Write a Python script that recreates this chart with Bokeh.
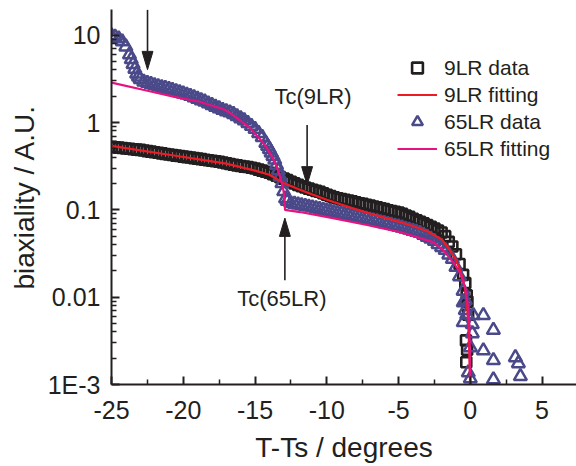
from bokeh.plotting import figure
from bokeh.models import (Range1d, FixedTicker, CustomJSTickFormatter, Legend,
                          LegendItem, Label)
from bokeh.embed import file_html
from bokeh.resources import INLINE

FONT = "Liberation Sans"
INK = "#231f20"
C9 = INK
C65 = "#4a4989"
RED = "#ed1c24"
PINK = "#e5127f"

# ---------------- data ----------------
lr9_x = [-25.0, -24.75, -24.5, -24.25, -24.0, -23.75, -23.5, -23.25, -23.0,
         -22.75, -22.5, -22.25, -22.0, -21.75, -21.5, -21.25, -21.0,
         -20.75, -20.5, -20.25, -20.0, -19.75, -19.5, -19.25, -19.0,
         -18.75, -18.5, -18.25, -18.0, -17.75, -17.5, -17.25, -17.0,
         -16.75, -16.5, -16.25, -16.0, -15.75, -15.5, -15.25, -15.0,
         -14.75, -14.5, -14.25, -14.0, -13.75, -13.5, -13.25, -13.0,
         -12.75, -12.5, -12.25, -12.0, -11.75, -11.5, -11.25, -11.0,
         -10.75, -10.5, -10.25, -10.0, -9.75, -9.5, -9.25, -9.0,
         -8.75, -8.5, -8.25, -8.0, -7.75, -7.5, -7.25, -7.0,
         -6.75, -6.5, -6.25, -6.0, -5.75, -5.5, -5.25, -5.0,
         -4.75, -4.5, -4.25, -4.0, -3.75, -3.5, -3.25, -3.0,
         -2.75, -2.5, -2.25, -2.0, -1.75, -1.5, -1.25, -1.0,
         -0.75, -0.5, -0.35, -0.25, -0.2, -0.15, -0.3, -0.22, -0.28]
lr9_y = [0.526, 0.521, 0.516, 0.511, 0.505, 0.500, 0.495, 0.490, 0.486,
         0.478, 0.471, 0.464, 0.457, 0.450, 0.444, 0.437, 0.431,
         0.424, 0.418, 0.413, 0.407, 0.402, 0.397, 0.391, 0.386,
         0.381, 0.375, 0.370, 0.365, 0.360, 0.355, 0.348, 0.342,
         0.335, 0.329, 0.323, 0.318, 0.313, 0.309, 0.304, 0.297,
         0.289, 0.281, 0.273, 0.266, 0.256, 0.246, 0.237, 0.228,
         0.219, 0.210, 0.201, 0.193, 0.186, 0.180, 0.175, 0.170,
         0.165, 0.161, 0.155, 0.149, 0.144, 0.139, 0.136, 0.133,
         0.130, 0.128, 0.125, 0.122, 0.119, 0.117, 0.114, 0.112,
         0.109, 0.107, 0.104, 0.102, 0.099, 0.097, 0.095, 0.093,
         0.090, 0.086, 0.083, 0.079, 0.076, 0.073, 0.070, 0.067,
         0.064, 0.061, 0.058, 0.055, 0.050, 0.043, 0.038, 0.031,
         0.024, 0.018, 0.0145, 0.0105, 0.0089, 0.0063, 0.0032, 0.0025, 0.0018]

lr65_x = [-25.0, -24.75, -24.5, -24.25, -24.0, -23.75, -23.625, -23.5, -23.375,
          -23.25, -23.125, -23.0, -22.75, -22.5, -22.25, -22.0, -21.75,
          -21.5, -21.25, -21.0, -20.75, -20.5, -20.25, -20.0, -19.75,
          -19.5, -19.25, -19.0, -18.75, -18.5, -18.25, -18.0, -17.75,
          -17.5, -17.25, -17.0, -16.75, -16.5, -16.25, -16.0, -15.75,
          -15.5, -15.25, -15.0, -14.75, -14.5, -14.25, -14.125, -14.0,
          -13.875, -13.75, -13.625, -13.5, -13.375, -13.25, -13.125, -13.0,
          -12.875, -12.75, -12.5, -12.25, -12.0, -11.75, -11.5, -11.25,
          -11.0, -10.75, -10.5, -10.25, -10.0, -9.75, -9.5, -9.25,
          -9.0, -8.75, -8.5, -8.25, -8.0, -7.75, -7.5, -7.25,
          -7.0, -6.75, -6.5, -6.25, -6.0, -5.75, -5.5, -5.25,
          -5.0, -4.75, -4.5, -4.25, -4.0, -3.75, -3.5, -3.25,
          -3.0, -2.75, -2.5, -2.25, -2.0, -1.75, -1.5, -1.25,
          -1.0, -0.75, -0.5, -0.35, -0.25, -0.49, -0.35, -0.49,
          0.21, 0.14, 0.14, 0.0, -0.14, 0.0, 0.91, 1.61, 0.91, 1.61, 1.61,
          3.14, 3.35, 3.49]
lr65_y = [9.90, 9.59, 9.15, 8.46, 7.40, 6.00, 5.29, 4.66, 4.11,
          3.62, 3.35, 3.14, 2.93, 2.83, 2.75, 2.67, 2.60,
          2.53, 2.47, 2.41, 2.35, 2.28, 2.21, 2.14, 2.08,
          2.01, 1.94, 1.86, 1.79, 1.73, 1.65, 1.58, 1.51,
          1.45, 1.39, 1.34, 1.30, 1.245, 1.178, 1.115, 1.055,
          0.982, 0.910, 0.843, 0.756, 0.679, 0.582, 0.537, 0.496,
          0.452, 0.412, 0.3745, 0.326, 0.2826, 0.240, 0.2014, 0.163,
          0.1345, 0.126, 0.119, 0.1168, 0.1146, 0.1124, 0.1104, 0.1083,
          0.1061, 0.1040, 0.1019, 0.0998, 0.0977, 0.0957, 0.0938, 0.0920,
          0.0903, 0.0885, 0.0868, 0.0851, 0.0835, 0.0819, 0.0803, 0.0788,
          0.0770, 0.0753, 0.0736, 0.0719, 0.0703, 0.0687, 0.0671, 0.0656,
          0.0641, 0.0625, 0.0607, 0.0590, 0.0574, 0.0558, 0.0542, 0.0516,
          0.0490, 0.0466, 0.0439, 0.0405, 0.0374, 0.0346, 0.0307, 0.0273,
          0.0221, 0.0173, 0.0118, 0.0092, 0.0063, 0.0087, 0.0071, 0.00515,
          0.0062, 0.00489, 0.00385, 0.00266, 0.00137, 0.00117, 0.0062, 0.0042,
          0.00245, 0.00189, 0.00114, 0.00204, 0.00174, 0.00124]

fit9_x = [-25.0, -23.0, -21.0, -19.0, -17.0, -15.0, -14.0, -13.0, -12.0, -11.0,
          -10.0, -9.0, -8.0, -7.0, -6.0, -5.0, -4.0, -3.0, -2.5, -2.0, -1.5,
          -1.0, -0.75, -0.5, -0.35, -0.25, -0.15, -0.08, -0.02, -0.005]
fit9_y = [0.540, 0.481, 0.428, 0.381, 0.338, 0.281, 0.252, 0.2025, 0.173, 0.150,
          0.1306, 0.115, 0.102, 0.0909, 0.0816, 0.0734, 0.0653, 0.0568, 0.0511,
          0.0461, 0.0361, 0.0267, 0.0212, 0.0160, 0.0120, 0.00907, 0.0052,
          0.00269, 0.00112, 0.0008]

fit65_x = [-25.0, -22.49, -20.60, -18.85, -17.11, -16.55, -15.36, -14.66, -14.18,
           -13.76, -13.48, -13.27, -13.06, -12.95, -12.92, -12.91, -11.87, -9.57,
           -7.19, -4.89, -2.58, -1.89, -1.19, -0.70, -0.35, -0.21, -0.07, -0.035,
           -0.005]
fit65_y = [2.86, 2.31, 1.97, 1.73, 1.40, 1.226, 0.869, 0.650, 0.512,
           0.393, 0.310, 0.244, 0.1827, 0.140, 0.1135, 0.100, 0.0944, 0.0805,
           0.067, 0.0556, 0.0427, 0.0345, 0.0252, 0.0188, 0.01265, 0.0092,
           0.00543, 0.00245, 0.0008]

x_ticks = [-25, -20, -15, -10, -5, 0, 5]
x_tick_labels = ["-25", "-20", "-15", "-10", "-5", "0", "5"]
x_minor = [-22.5, -17.5, -12.5, -7.5, -2.5, 2.5]
y_ticks = [0.001, 0.01, 0.1, 1, 10]
y_tick_labels = ["1E-3", "0.01", "0.1", "1", "10"]
y_minor = [k * 10.0 ** e for e in (-3, -2, -1, 0, 1) for k in range(2, 10)]

# annotations: arrow x, tail y, tip y ; labels
arrow_x = [-22.49, -11.37, -12.92]
arrow_tail = [19.6, 0.94, 0.0156]
arrow_tip = [4.03, 0.193, 0.0805]
label_text = ["Tc(9LR)", "Tc(65LR)"]
label_x = [-10.96, -13.13]
label_y = [2.0, 0.0097]

# ---------------- figure ----------------
p = figure(width=576, height=466, output_backend="svg", toolbar_location=None,
           x_range=Range1d(-25, 7.4), y_range=Range1d(0.001, 19.7),
           y_axis_type="log", min_border_left=111, min_border_right=0,
           min_border_top=9, min_border_bottom=82)
p.grid.visible = False
p.outline_line_color = None
p.background_fill_color = "white"
p.border_fill_color = "white"

r9 = p.scatter(lr9_x, lr9_y, marker="square", size=10, fill_color=None,
               line_color=C9, line_width=2.6)
r65 = p.scatter(lr65_x, lr65_y, marker="triangle", size=13, fill_color=None,
                line_color=C65, line_width=2.5)
f9 = p.line(fit9_x, fit9_y, line_color=RED, line_width=2.2)
f65 = p.line(fit65_x, fit65_y, line_color=PINK, line_width=2.2)

# arrows (shaft + narrow filled head)
half_w = 0.38      # half head width in x units (~5.5 px)
head_f = 1.62      # head length as a y factor on the log axis (~18 px)
for ax, at, ap in zip(arrow_x, arrow_tail, arrow_tip):
    base = ap * head_f if at > ap else ap / head_f
    p.segment(x0=[ax], y0=[at], x1=[ax], y1=[base], line_color=INK, line_width=1.6)
    p.patch([ax - half_w, ax, ax + half_w], [base, ap, base],
            fill_color=INK, line_color=INK, line_width=1)

for t, lx, ly in zip(label_text, label_x, label_y):
    p.add_layout(Label(x=lx, y=ly, text=t, text_align="center",
                       text_baseline="middle", text_font=FONT,
                       text_font_size="22px", text_color=INK))

# axes
xa = p.xaxis[0]
xa.ticker = FixedTicker(ticks=x_ticks, minor_ticks=x_minor)
xa.major_label_overrides = {t: l for t, l in zip(x_ticks, x_tick_labels)}
ya = p.yaxis[0]
ya.ticker = FixedTicker(ticks=y_ticks, minor_ticks=y_minor)
ya.formatter = CustomJSTickFormatter(args=dict(vals=y_ticks, labs=y_tick_labels), code="""
for (let i = 0; i < vals.length; i++) {
  if (Math.abs(Math.log10(tick) - Math.log10(vals[i])) < 1e-6) return labs[i];
}
return "";
""")
for a in (xa, ya):
    a.axis_line_color = INK
    a.axis_line_width = 2
    a.major_tick_line_color = INK
    a.major_tick_line_width = 2
    a.minor_tick_line_color = INK
    a.minor_tick_line_width = 1.5
    a.major_tick_in = 8
    a.major_tick_out = 0
    a.minor_tick_in = 5
    a.minor_tick_out = 0
    a.major_label_text_font = FONT
    a.major_label_text_font_size = "25px"
    a.major_label_text_color = INK
    a.axis_label_text_font = FONT
    a.axis_label_text_font_size = "28px"
    a.axis_label_text_font_style = "normal"
    a.axis_label_text_color = INK
xa.axis_label = "T-Ts / degrees"
ya.axis_label = "biaxiality / A.U."
xa.major_label_standoff = 16
ya.major_label_standoff = 11
xa.axis_label_standoff = 10
ya.axis_label_standoff = 5

legend = Legend(items=[LegendItem(label="9LR data", renderers=[r9]),
                       LegendItem(label="9LR fitting", renderers=[f9]),
                       LegendItem(label="65LR data", renderers=[r65]),
                       LegendItem(label="65LR fitting", renderers=[f65])],
                location=(286, 222), glyph_width=40, glyph_height=27,
                label_height=27, spacing=0, padding=0, margin=0,
                label_standoff=7, label_text_font=FONT,
                label_text_font_size="21px", label_text_color=INK,
                border_line_color=None, background_fill_alpha=0)
p.add_layout(legend)

open("out.html", "w").write(file_html(p, INLINE))
